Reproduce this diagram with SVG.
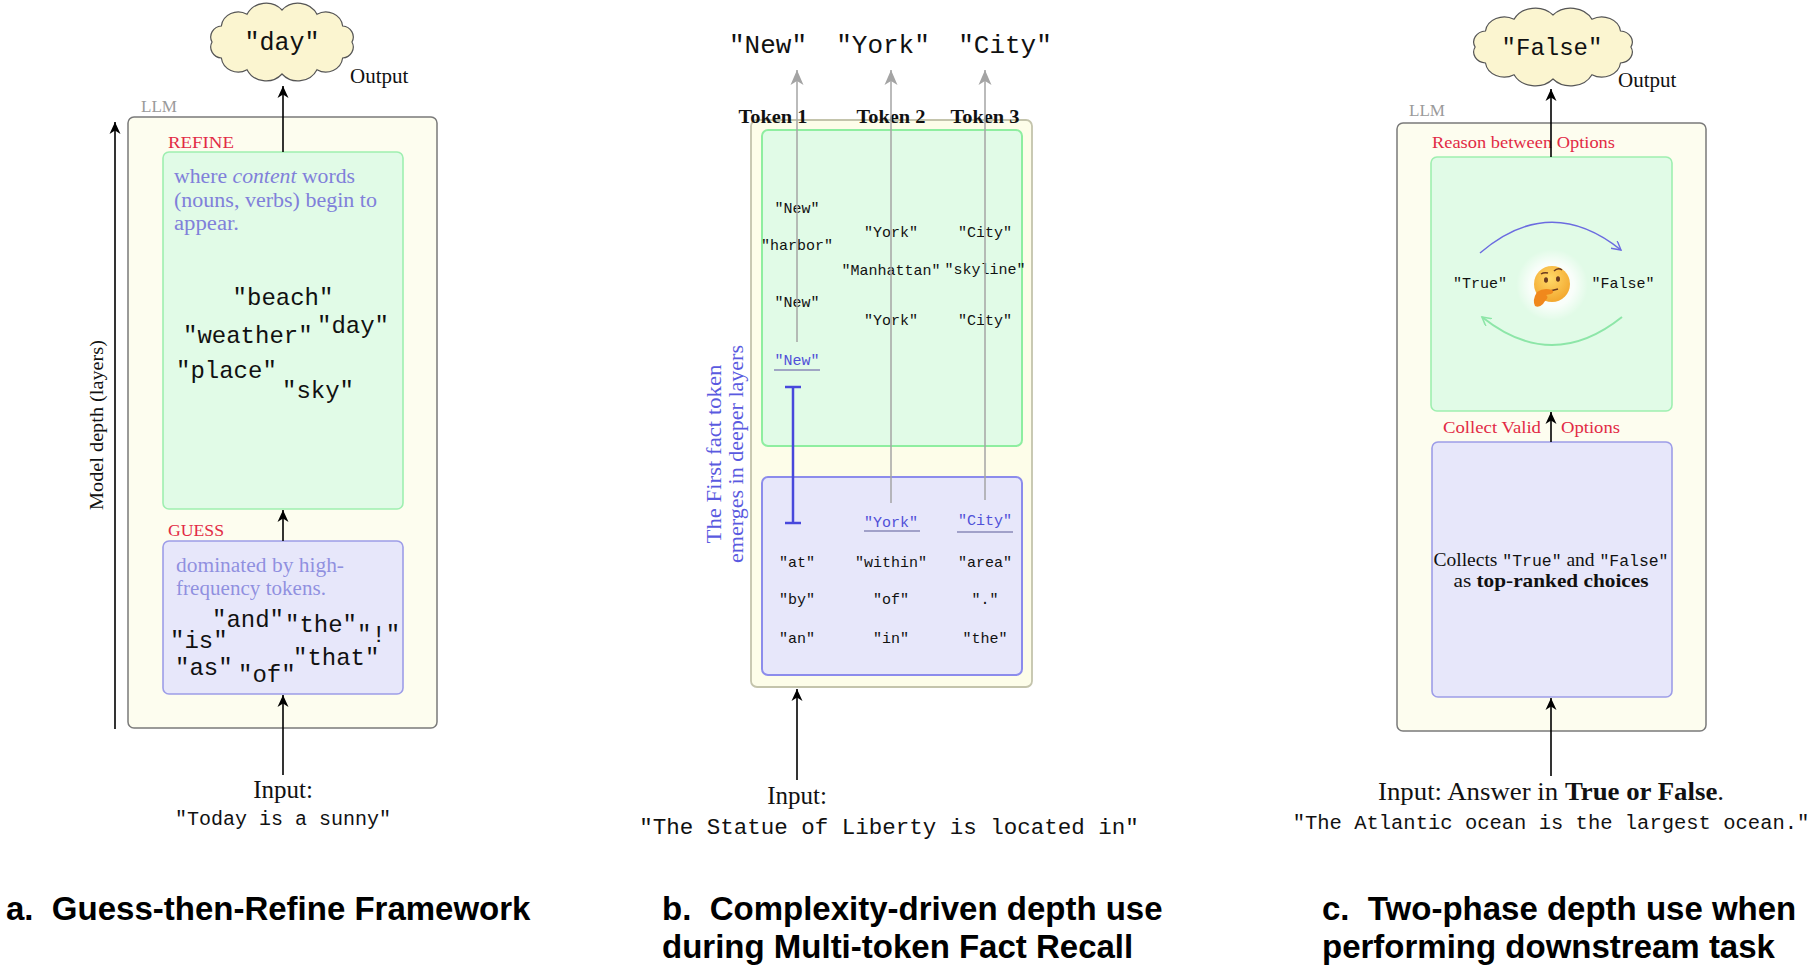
<svg xmlns="http://www.w3.org/2000/svg" width="1812" height="969" viewBox="0 0 1812 969">
<defs>
<style>
.serif{font-family:"Liberation Serif","Times New Roman",serif}
.mono{font-family:"Liberation Mono","Courier New",monospace}
.sans{font-family:"Liberation Sans",Arial,sans-serif}
.llm{fill:#fdfdef;stroke:#7a7a7a;stroke-width:1.5}
.llmb{fill:#fdfde9;stroke:#c4c4ac;stroke-width:1.8}
.green{fill:#e1fbe7;stroke:#9eefb0;stroke-width:1.6}
.greenb{fill:#e1fbe7;stroke:#8eeea0;stroke-width:2}
.blue{fill:#e7e7fa;stroke:#9d9de8;stroke-width:1.6}
.blueb{fill:#e7e7fa;stroke:#8c8cec;stroke-width:2}
.cloud{fill:#fbf5d0;stroke:#555;stroke-width:1.2}
.red{fill:#e22a45}
.desc{fill:#8080da}
.gray{fill:#9a9a9a}
.arrow{stroke:#000;stroke-width:1.6;fill:none;marker-end:url(#ah)}
.garrow{stroke:#a4a4a4;stroke-width:1.5;fill:none;marker-end:url(#gah)}
.cap{font-family:"Liberation Sans",Arial,sans-serif;font-weight:bold;font-size:33px;fill:#000}
.big{font-family:"Liberation Mono","Courier New",monospace;font-size:24px;fill:#111}
.tok{font-family:"Liberation Mono","Courier New",monospace;font-size:15px;fill:#111;text-anchor:middle}
.tokb{font-family:"Liberation Mono","Courier New",monospace;font-size:15px;fill:#5050d8;text-anchor:middle}
.th{font-family:"Liberation Serif","Times New Roman",serif;font-size:18px;font-weight:bold;text-anchor:middle;fill:#111}
</style>
<marker id="ah" markerWidth="14" markerHeight="12" refX="12" refY="6" orient="auto" markerUnits="userSpaceOnUse"><path d="M0,0.5 L12,6 L0,11.5 L3.5,6 Z" fill="#000"/></marker>
<marker id="gah" markerWidth="16" markerHeight="14" refX="15" refY="7" orient="auto" markerUnits="userSpaceOnUse"><path d="M0,0.5 L15,7 L0,13.5 L4,7 Z" fill="#a4a4a4"/></marker>
<marker id="oab" markerWidth="12" markerHeight="12" refX="9" refY="5" orient="auto" markerUnits="userSpaceOnUse"><path d="M0,0 L9,5 L0,10" fill="none" stroke="#6b6be0" stroke-width="1.4"/></marker>
<marker id="oag" markerWidth="12" markerHeight="12" refX="9" refY="5" orient="auto" markerUnits="userSpaceOnUse"><path d="M0,0 L9,5 L0,10" fill="none" stroke="#8de6a8" stroke-width="1.6"/></marker>
<path id="cloudShape" vector-effect="non-scaling-stroke" d="M66,0 A11,11 0 0 1 57.2,16 A16,16 0 0 1 33,27.7 A20,20 0 0 1 0,32 A20,20 0 0 1 -33,27.7 A16,16 0 0 1 -57.2,16 A11,11 0 0 1 -66,0 A11,11 0 0 1 -57.2,-16 A16,16 0 0 1 -33,-27.7 A20,20 0 0 1 0,-32 A20,20 0 0 1 33,-27.7 A16,16 0 0 1 57.2,-16 A11,11 0 0 1 66,0 Z"/>
<radialGradient id="glow"><stop offset="0" stop-color="#fff" stop-opacity="1"/><stop offset="0.6" stop-color="#fff" stop-opacity="0.8"/><stop offset="1" stop-color="#fff" stop-opacity="0"/></radialGradient>
<radialGradient id="face" cx="0.45" cy="0.35" r="0.7"><stop offset="0" stop-color="#ffd968"/><stop offset="1" stop-color="#f2a42a"/></radialGradient>
</defs>
<rect x="0" y="0" width="1812" height="969" fill="#fff"/>

<!-- Panel a -->
<g id="a-llm">
<rect class="llm" x="128" y="117" width="309" height="611" rx="6"/>
<text class="serif gray" x="141" y="112" font-size="16" textLength="36" lengthAdjust="spacingAndGlyphs">LLM</text>
</g>
<g id="a-output">
<use href="#cloudShape" class="cloud" transform="translate(282,42) scale(1.06,1)"/>
<text class="mono" x="282" y="50" font-size="25" text-anchor="middle" fill="#111">"day"</text>
<text class="serif" x="350" y="83" font-size="21" fill="#111">Output</text>
</g>
<g id="a-refine">
<text class="serif red" x="168" y="148" font-size="16" textLength="66" lengthAdjust="spacingAndGlyphs">REFINE</text>
<rect class="green" x="163" y="152" width="240" height="357" rx="6"/>
<text class="serif desc" x="174" y="183" font-size="20" textLength="181" lengthAdjust="spacingAndGlyphs">where <tspan font-style="italic">content</tspan> words</text>
<text class="serif desc" x="174" y="207" font-size="20" textLength="203" lengthAdjust="spacingAndGlyphs">(nouns, verbs) begin to</text>
<text class="serif desc" x="174" y="230" font-size="20" textLength="65" lengthAdjust="spacingAndGlyphs">appear.</text>
<text class="big" x="283" y="305" text-anchor="middle">"beach"</text>
<text class="big" x="183" y="343">"weather"</text>
<text class="big" x="317" y="333">"day"</text>
<text class="big" x="176" y="378">"place"</text>
<text class="big" x="282" y="398">"sky"</text>
</g>
<g id="a-guess">
<text class="serif red" x="168" y="536" font-size="16" textLength="56" lengthAdjust="spacingAndGlyphs">GUESS</text>
<rect class="blue" x="163" y="541" width="240" height="153" rx="6"/>
<text class="serif desc" x="176" y="572" font-size="20" fill-opacity="0.85" textLength="168" lengthAdjust="spacingAndGlyphs">dominated by high-</text>
<text class="serif desc" x="176" y="595" font-size="20" fill-opacity="0.85" textLength="150" lengthAdjust="spacingAndGlyphs">frequency tokens.</text>
<text class="big" x="212" y="627">"and"</text>
<text class="big" x="285" y="632">"the"</text>
<text class="big" x="357" y="642">"!"</text>
<text class="big" x="170" y="648">"is"</text>
<text class="big" x="293" y="665">"that"</text>
<text class="big" x="175" y="675">"as"</text>
<text class="big" x="238" y="682">"of"</text>
</g>
<g id="a-input">
<text class="serif" x="283" y="798" font-size="25" text-anchor="middle" fill="#111">Input:</text>
<text class="mono" x="283" y="825" font-size="20" text-anchor="middle" fill="#111">"Today is a sunny"</text>
</g>
<g id="a-axis-label">
<text class="serif" transform="translate(103,425) rotate(-90)" font-size="19" text-anchor="middle" fill="#111" textLength="170" lengthAdjust="spacingAndGlyphs">Model depth (layers)</text>
</g>
<g id="a-caption">
<text class="cap" x="6" y="920">a.&#160; Guess-then-Refine Framework</text>
</g>

<!-- Panel b -->
<g id="b-outputs">
<text class="mono" x="768" y="53" font-size="26" text-anchor="middle" fill="#111">"New"</text>
<text class="mono" x="883" y="53" font-size="26" text-anchor="middle" fill="#111">"York"</text>
<text class="mono" x="1005" y="53" font-size="26" text-anchor="middle" fill="#111">"City"</text>
</g>
<g id="b-llm">
<rect class="llmb" x="751" y="120" width="281" height="567" rx="6"/>
</g>
<g id="b-deep">
<rect class="greenb" x="762" y="130" width="260" height="316" rx="6"/>
<text class="tok" x="797" y="213">"New"</text>
<text class="tok" x="797" y="250">"harbor"</text>
<text class="tok" x="797" y="307">"New"</text>
<text class="tokb" x="797" y="365">"New"</text>
<line x1="774" y1="370" x2="820" y2="370" stroke="#8a8ab8" stroke-width="1.5"/>
<text class="tok" x="891" y="237">"York"</text>
<text class="tok" x="891" y="275">"Manhattan"</text>
<text class="tok" x="891" y="325">"York"</text>
<text class="tok" x="985" y="237">"City"</text>
<text class="tok" x="985" y="274">"skyline"</text>
<text class="tok" x="985" y="325">"City"</text>
</g>
<g id="b-shallow">
<rect class="blueb" x="762" y="477" width="260" height="198" rx="6"/>
<text class="tokb" x="891" y="527">"York"</text>
<line x1="864" y1="531" x2="920" y2="531" stroke="#8a8ab8" stroke-width="1.5"/>
<text class="tokb" x="985" y="525">"City"</text>
<line x1="957" y1="532" x2="1013" y2="532" stroke="#8a8ab8" stroke-width="1.5"/>
<text class="tok" x="797" y="567">"at"</text>
<text class="tok" x="797" y="604">"by"</text>
<text class="tok" x="797" y="643">"an"</text>
<text class="tok" x="891" y="567">"within"</text>
<text class="tok" x="891" y="604">"of"</text>
<text class="tok" x="891" y="643">"in"</text>
<text class="tok" x="985" y="567">"area"</text>
<text class="tok" x="985" y="604">"."</text>
<text class="tok" x="985" y="643">"the"</text>
</g>
<g id="b-token-headers">
<text class="th" x="773" y="123" textLength="69" lengthAdjust="spacingAndGlyphs">Token 1</text>
<text class="th" x="891" y="123" textLength="69" lengthAdjust="spacingAndGlyphs">Token 2</text>
<text class="th" x="985" y="123" textLength="69" lengthAdjust="spacingAndGlyphs">Token 3</text>
</g>
<g id="b-note">
<text class="serif" transform="translate(721,454) rotate(-90)" font-size="20" text-anchor="middle" fill="#5a5ae0" textLength="179" lengthAdjust="spacingAndGlyphs">The First fact token</text>
<text class="serif" transform="translate(743,454) rotate(-90)" font-size="20" text-anchor="middle" fill="#5a5ae0" textLength="218" lengthAdjust="spacingAndGlyphs">emerges in deeper layers</text>
</g>
<g id="b-input">
<text class="serif" x="797" y="804" font-size="25" text-anchor="middle" fill="#111">Input:</text>
<text class="mono" x="889" y="834" font-size="22.5" text-anchor="middle" fill="#111">"The Statue of Liberty is located in"</text>
</g>
<g id="b-caption">
<text class="cap" x="662" y="920">b.&#160; Complexity-driven depth use</text>
<text class="cap" x="662" y="958">during Multi-token Fact Recall</text>
</g>

<!-- Panel c -->
<g id="c-llm">
<rect class="llm" x="1397" y="123" width="309" height="608" rx="6"/>
<text class="serif gray" x="1409" y="116" font-size="16" textLength="36" lengthAdjust="spacingAndGlyphs">LLM</text>
</g>
<g id="c-output">
<use href="#cloudShape" class="cloud" transform="translate(1553,47) scale(1.18,1)"/>
<text class="mono" x="1552" y="55" font-size="24" text-anchor="middle" fill="#111">"False"</text>
<text class="serif" x="1618" y="87" font-size="21" fill="#111">Output</text>
</g>
<g id="c-reason">
<text class="serif red" x="1432" y="148" font-size="17" textLength="183" lengthAdjust="spacingAndGlyphs">Reason between Options</text>
<rect class="green" x="1431" y="157" width="241" height="254" rx="6"/>
<circle cx="1552" cy="285" r="36" fill="url(#glow)"/>
<text class="mono" x="1480" y="288" font-size="15" text-anchor="middle" fill="#111">"True"</text>
<text class="mono" x="1623" y="288" font-size="15" text-anchor="middle" fill="#111">"False"</text>
<g id="c-emoji">
<circle cx="1552" cy="284" r="18" fill="url(#face)"/>
<ellipse cx="1546" cy="280" rx="2" ry="2.8" fill="#6b3a1e"/>
<ellipse cx="1558" cy="279" rx="2" ry="2.8" fill="#6b3a1e"/>
<path d="M1541,274 q3,-2 7,-1" stroke="#6b3a1e" stroke-width="1.5" fill="none"/>
<path d="M1554,271 q4,-4 8,-1" stroke="#6b3a1e" stroke-width="1.5" fill="none"/>
<path d="M1550,291 l8,-2" stroke="#6b3a1e" stroke-width="1.6" fill="none"/>
<path d="M1537,292 q7,-5 15,-2 q3,2 -1,4 l-5,1 q3,2 0,5 q-2,2 -3,4 q-4,4 -8,2 q-3,-6 2,-14 z" fill="#f0881c"/>
</g>
</g>
<g id="c-collect">
<text class="serif red" x="1443" y="433" font-size="17" textLength="98" lengthAdjust="spacingAndGlyphs">Collect Valid</text>
<text class="serif red" x="1561" y="433" font-size="17" textLength="59" lengthAdjust="spacingAndGlyphs">Options</text>
<rect class="blue" x="1432" y="442" width="240" height="255" rx="6"/>
<text class="serif" x="1551" y="566" font-size="19" text-anchor="middle" fill="#111" textLength="235" lengthAdjust="spacingAndGlyphs">Collects <tspan class="mono" font-size="16">"True"</tspan> and <tspan class="mono" font-size="16">"False"</tspan></text>
<text class="serif" x="1551" y="587" font-size="19" text-anchor="middle" fill="#111" textLength="195" lengthAdjust="spacingAndGlyphs">as <tspan font-weight="bold">top-ranked choices</tspan></text>
</g>
<g id="c-input">
<text class="serif" x="1551" y="800" font-size="25" text-anchor="middle" fill="#111" textLength="346" lengthAdjust="spacingAndGlyphs">Input: Answer in <tspan font-weight="bold">True or False</tspan>.</text>
<text class="mono" x="1551" y="829" font-size="20.5" text-anchor="middle" fill="#111">"The Atlantic ocean is the largest ocean."</text>
</g>
<g id="c-caption">
<text class="cap" x="1322" y="920">c.&#160; Two-phase depth use when</text>
<text class="cap" x="1322" y="958">performing downstream task</text>
</g>

<!-- Connectors -->
<g id="connectors">
<line class="arrow" x1="283" y1="152" x2="283" y2="86"/>
<line class="arrow" x1="283" y1="541" x2="283" y2="510"/>
<line class="arrow" x1="283" y1="775" x2="283" y2="695"/>
<line class="arrow" x1="115" y1="729" x2="115" y2="122"/>
<line class="garrow" x1="797" y1="342" x2="797" y2="70"/>
<line class="garrow" x1="891" y1="503" x2="891" y2="70"/>
<line class="garrow" x1="985" y1="500" x2="985" y2="70"/>
<g id="b-range" stroke="#4848dc" stroke-width="2.5">
<line x1="793" y1="387" x2="793" y2="523"/>
<line x1="785" y1="387" x2="801" y2="387"/>
<line x1="785" y1="523" x2="801" y2="523"/>
</g>
<line class="arrow" x1="797" y1="780" x2="797" y2="689"/>
<line class="arrow" x1="1551" y1="157" x2="1551" y2="89"/>
<line class="arrow" x1="1551" y1="442" x2="1551" y2="412"/>
<line class="arrow" x1="1551" y1="776" x2="1551" y2="698"/>
<path d="M1480,253 Q1550,193 1621,250" fill="none" stroke="#6b6be0" stroke-width="1.5" marker-end="url(#oab)"/>
<path d="M1622,317 Q1552,373 1482,317" fill="none" stroke="#8de6a8" stroke-width="2" marker-end="url(#oag)"/>
</g>
</svg>
